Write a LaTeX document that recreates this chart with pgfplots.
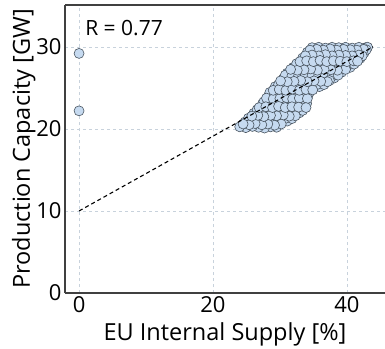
\documentclass[border=0pt]{standalone}
\usepackage{fontspec}
\setmainfont{Open Sans}
\usepackage{pgfplots}
\pgfplotsset{compat=1.18}
\usetikzlibrary{calc}
\definecolor{ptfill}{HTML}{C6DAF0}
\definecolor{ptedge}{HTML}{4A5560}
\definecolor{gridc}{HTML}{C8D2DC}
\definecolor{spine}{HTML}{404040}
\begin{document}
\begin{tikzpicture}
\begin{axis}[
  name=ax,
  scale only axis,
  width=320pt, height=288pt,
  xmin=-2.1, xmax=45.7, ymin=0, ymax=35.1,
  axis x line*=box, axis y line*=left,
  axis line style={spine, line width=1.3pt},
  xtick={0,20,40}, ytick={0,10,20,30},
  major tick length=0pt,
  grid=major,
  major grid style={gridc, dashed, line width=0.6pt},
  tick label style={font=\fontsize{22}{24}\selectfont},
  /pgf/number format/assume math mode=true,
  xlabel={EU Internal Supply [\%]},
  ylabel={Production Capacity [GW]},
  label style={font=\fontsize{23.5}{25}\selectfont},
  xlabel style={yshift=-3pt},
  ylabel style={yshift=-6pt},
  clip=false,
  clip mode=individual,
]
\addplot[only marks, mark=*, mark size=5pt, mark options={fill=ptfill, draw=ptedge, line width=0.6pt}] table {
x y
0 29.2
0 22.2
29.3 25.15
30.3 25.05
31.3 25.2
32.3 25.1
33.3 25.05
34.3 25.2
35.2 25.1
35.9 25.15
24.8 20.85
25.9 20.95
26.7 20.8
27.8 20.95
28.7 20.85
29.6 21.0
30.5 20.9
31.1 20.95
40.5 27.5
40.0 27.6
39.0 27.5
38.0 27.55
37.0 27.6
36.0 27.5
35.0 27.65
34.0 27.5
33.0 27.6
32.0 27.5
27.4 23.05
28.3 22.95
29.3 23.1
30.3 23.0
31.2 22.95
32.2 23.05
33.2 23.0
34.0 23.1
34.1 29.35
35.1 29.25
36.1 29.3
37.1 29.4
38.1 29.25
39.1 29.35
40.1 29.3
41.1 29.25
42.1 29.35
42.6 29.3
29.5 20.2
28.6 20.25
27.7 20.1
26.8 20.2
25.9 20.3
24.9 20.15
24.0 20.25
30.5 26.1
31.5 26.2
32.5 26.1
33.5 26.25
34.5 26.1
35.5 26.2
36.5 26.15
37.4 26.1
38.1 26.2
34.2 24.05
33.3 24.1
32.3 24.0
31.3 24.15
30.3 24.0
29.3 24.1
28.3 24.0
26.1 21.9
27.1 22.0
28.0 21.9
29.0 22.05
29.9 21.95
30.9 21.9
31.9 22.0
32.9 21.95
33.4 28.65
34.4 28.55
35.4 28.6
36.4 28.7
37.4 28.55
38.4 28.65
39.4 28.6
40.4 28.55
41.4 28.65
42.0 28.6
39.2 26.9
38.1 26.8
37.1 26.85
36.1 26.9
35.1 26.8
34.1 26.95
33.1 26.8
32.1 26.9
31.1 26.8
25.3 21.3
26.2 21.2
27.2 21.35
28.1 21.2
29.1 21.3
30.0 21.15
30.9 21.3
31.8 21.25
34.8 29.9
35.8 29.95
36.8 29.85
37.8 29.95
38.8 29.9
39.8 29.95
40.8 29.85
41.8 29.95
42.8 29.9
43.1 29.95
33.6 23.35
32.6 23.4
31.6 23.3
30.6 23.45
29.6 23.3
28.6 23.4
27.6 23.3
29.8 25.4
30.8 25.5
31.7 25.4
32.7 25.55
33.7 25.4
34.7 25.5
35.7 25.45
36.6 25.4
33.4 22.25
32.3 22.3
31.3 22.35
30.4 22.2
29.4 22.3
28.5 22.4
27.5 22.25
26.6 22.35
32.5 27.95
33.5 27.85
34.5 27.9
35.5 28.0
36.5 27.85
37.5 27.95
38.5 27.9
39.5 27.85
40.5 27.95
41.1 27.9
30.2 20.6
29.2 20.45
28.2 20.6
27.3 20.5
26.3 20.65
25.4 20.5
24.5 20.6
28.5 24.45
29.6 24.35
30.6 24.5
31.6 24.4
32.6 24.45
33.5 24.35
34.4 24.45
42.9 29.65
42.5 29.7
41.5 29.6
40.5 29.65
39.5 29.7
38.5 29.6
37.5 29.75
36.5 29.6
35.5 29.7
34.5 29.6
30.8 26.55
31.8 26.45
32.8 26.5
33.8 26.6
34.8 26.45
35.8 26.55
36.8 26.5
37.8 26.45
38.7 26.55
32.3 21.6
31.4 21.55
30.5 21.7
29.5 21.6
28.6 21.65
27.6 21.5
26.7 21.65
25.8 21.55
28.0 23.75
29.0 23.65
30.0 23.7
31.0 23.8
31.9 23.65
32.9 23.75
34.1 23.7
42.3 28.9
41.8 29.0
40.8 28.9
39.8 28.95
38.8 29.0
37.8 28.9
36.8 29.05
35.8 28.9
34.8 29.0
33.8 28.9
26.9 22.6
27.9 22.7
28.9 22.6
29.8 22.75
30.8 22.6
31.8 22.7
32.8 22.65
33.9 22.6
39.8 27.25
38.6 27.15
37.6 27.2
36.6 27.25
35.6 27.15
34.6 27.3
33.6 27.2
32.6 27.15
31.6 27.25
29.0 24.7
29.9 24.8
30.9 24.7
31.9 24.85
32.9 24.7
33.9 24.8
34.9 24.75
33.0 28.2
34.0 28.3
35.0 28.2
36.0 28.35
37.0 28.2
38.0 28.3
39.0 28.25
40.0 28.2
41.0 28.3
41.6 28.25
37.4 25.9
37.1 25.75
36.1 25.8
35.1 25.85
34.1 25.75
33.1 25.9
32.1 25.8
31.1 25.75
30.1 25.85
};
\addplot[black, line width=1.1pt, dash pattern=on 4pt off 3pt] coordinates {(0,10) (43.9,30)};
\node[anchor=base west, font=\fontsize{21}{23}\selectfont] at (axis cs:0.4,31.4) {R = 0.77};
\end{axis}
\pgfresetboundingbox
\path ($(ax.south west)+(-65pt,-55pt)$) rectangle ($(ax.north east)+(0pt,5pt)$);
\end{tikzpicture}
\end{document}
